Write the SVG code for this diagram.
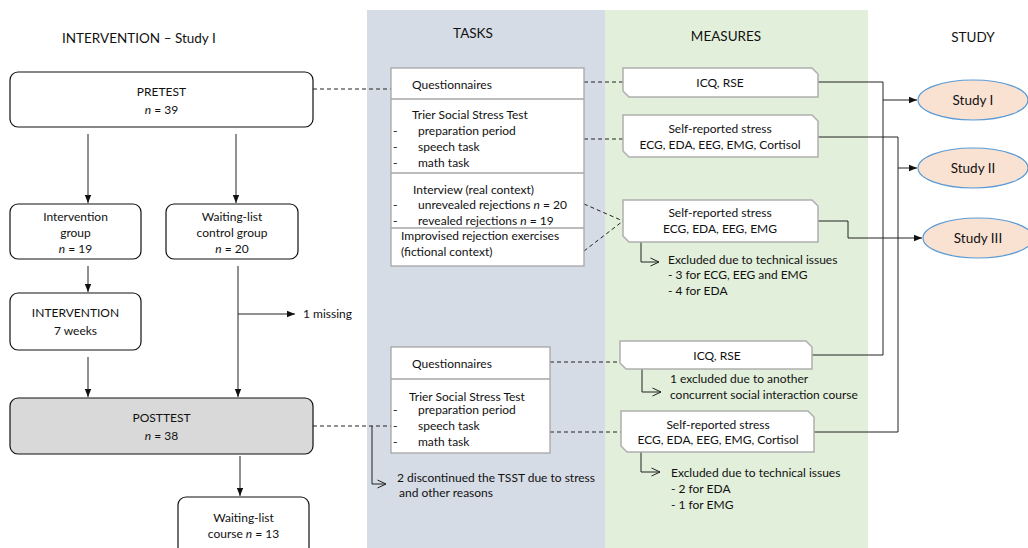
<svg xmlns="http://www.w3.org/2000/svg" width="1028" height="548" viewBox="0 0 1028 548">
<defs>
<style>
text{font-family:Lato,"Liberation Sans",sans-serif;font-size:12px;fill:#111}
.t{font-size:13.5px}
.c{text-anchor:middle}
.i{font-style:italic}
.lb{fill:#fff;stroke:#111;stroke-width:1.2}
.tb{fill:#fff;stroke:#A6A6A6;stroke-width:1.3}
.mb{fill:#fff;stroke:#AFAFAF;stroke-width:1.5}
.ln{fill:none;stroke:#222;stroke-width:1}
.ar{fill:none;stroke:#222;stroke-width:1;marker-end:url(#a)}
.op{fill:none;stroke:#222;stroke-width:1;marker-end:url(#o)}
.da{fill:none;stroke:#222;stroke-width:1;stroke-dasharray:4 3}
.el{fill:#FAE2D3;stroke:#5B9BD5;stroke-width:1.2}
</style>
<marker id="a" viewBox="0 0 8 8" refX="8" refY="4" markerWidth="8" markerHeight="8" markerUnits="userSpaceOnUse" orient="auto"><path d="M0,0.8 L8,4 L0,7.2 Z" fill="#111"/></marker>
<marker id="o" viewBox="0 0 10 10" refX="9.5" refY="5" markerWidth="10" markerHeight="10" markerUnits="userSpaceOnUse" orient="auto"><path d="M1,1 L9.5,5 L1,9" fill="none" stroke="#222" stroke-width="1"/></marker>
</defs>
<rect width="1028" height="548" fill="#fff"/>
<g id="panels">
<rect x="367" y="10" width="238" height="538" fill="#D6DCE5"/>
<rect x="605" y="10" width="263" height="538" fill="#E2EFDA"/>
</g>
<g id="titles">
<text class="t" x="62" y="43">INTERVENTION – Study I</text>
<text class="t c" x="473" y="38">TASKS</text>
<text class="t c" x="726" y="41">MEASURES</text>
<text class="t c" x="973" y="42">STUDY</text>
</g>
<g id="connectors">
<path class="da" d="M313,89 H391"/>
<path class="da" d="M584,82 H623"/>
<path class="da" d="M584,139 H623"/>
<path class="da" d="M584,204 L623,221 M584,251 L623,221"/>
<path class="da" d="M313,426 H391"/>
<path class="da" d="M550,362 H620"/>
<path class="da" d="M550,432 H621"/>
<path class="ar" d="M88,134 V203"/>
<path class="ar" d="M236,134 V203"/>
<path class="ar" d="M88,266 V292"/>
<path class="ar" d="M88,357 V397"/>
<path class="ar" d="M238,266 V397"/>
<path class="ar" d="M238,314 H295"/>
<path class="ar" d="M240,456 V496"/>
<path class="op" d="M372,426 V484 H386"/>
<path class="op" d="M641,242 V262 H659"/>
<path class="op" d="M642,369 V392 H661"/>
<path class="op" d="M641,452 V472 H660"/>
<path class="ln" d="M818,82 H883 V355 H812"/>
<path class="ar" d="M883,100 H917"/>
<path class="ln" d="M818,137 H898 V432 H814"/>
<path class="ar" d="M898,168 H917"/>
<path class="ar" d="M818,221 H848 V238 H922"/>
</g>
<g id="pretest">
<rect class="lb" x="10" y="72" width="303" height="55" rx="8"/>
<text class="c" x="161.5" y="96">PRETEST</text>
<text class="c" x="161.5" y="114"><tspan class="i">n</tspan> = 39</text>
</g>
<g id="intervention-group">
<rect class="lb" x="10" y="204" width="131" height="55" rx="8"/>
<text class="c" x="75.5" y="221">Intervention</text>
<text class="c" x="75.5" y="237">group</text>
<text class="c" x="75.5" y="253"><tspan class="i">n</tspan> = 19</text>
</g>
<g id="control-group">
<rect class="lb" x="166" y="204" width="132" height="55" rx="8"/>
<text class="c" x="232" y="221">Waiting-list</text>
<text class="c" x="232" y="237">control group</text>
<text class="c" x="232" y="253"><tspan class="i">n</tspan> = 20</text>
</g>
<g id="intervention">
<rect class="lb" x="10" y="293" width="131" height="57" rx="8"/>
<text class="c" x="75.5" y="317">INTERVENTION</text>
<text class="c" x="75.5" y="335">7 weeks</text>
</g>
<g id="missing">
<text x="303" y="318">1 missing</text>
</g>
<g id="posttest">
<rect class="lb" x="10" y="398" width="303" height="56" rx="8" style="fill:#D9D9D9"/>
<text class="c" x="161.5" y="422">POSTTEST</text>
<text class="c" x="161.5" y="440"><tspan class="i">n</tspan> = 38</text>
</g>
<g id="waiting-course">
<rect class="lb" x="178" y="497" width="131" height="70" rx="8"/>
<text class="c" x="243.5" y="522">Waiting-list</text>
<text class="c" x="243.5" y="538">course <tspan class="i">n</tspan> = 13</text>
</g>
<g id="tasks-pre">
<rect class="tb" x="391" y="68" width="193" height="198"/>
<path class="tb" d="M391,99 H584 M391,173 H584 M391,228 H584"/>
<text x="412" y="89">Questionnaires</text>
<text x="412" y="119">Trier Social Stress Test</text>
<text x="393" y="135">-</text><text x="418" y="135">preparation period</text>
<text x="393" y="151">-</text><text x="418" y="151">speech task</text>
<text x="393" y="167">-</text><text x="418" y="167">math task</text>
<text x="413" y="194">Interview (real context)</text>
<text x="393" y="209">-</text><text x="418" y="209">unrevealed rejections  <tspan class="i">n</tspan> = 20</text>
<text x="393" y="225">-</text><text x="418" y="225">revealed rejections <tspan class="i">n</tspan> = 19</text>
<text x="401" y="240">Improvised rejection exercises</text>
<text x="401" y="256">(fictional context)</text>
</g>
<g id="tasks-post">
<rect class="tb" x="391" y="347" width="159" height="106"/>
<path class="tb" d="M391,379 H550"/>
<text x="412" y="368">Questionnaires</text>
<text x="409" y="401">Trier Social Stress Test</text>
<text x="393" y="414">-</text><text x="418" y="414">preparation period</text>
<text x="393" y="430">-</text><text x="418" y="430">speech task</text>
<text x="393" y="446">-</text><text x="418" y="446">math task</text>
</g>
<g id="discontinued">
<text x="397" y="482">2 discontinued the TSST due to stress</text>
<text x="399" y="497">and other reasons</text>
</g>
<g id="icq-pre">
<path class="mb" d="M623,68 H812 L818,74 V97 H629 L623,91 Z"/>
<text class="c" x="720" y="87">ICQ, RSE</text>
</g>
<g id="stress-pre-tsst">
<path class="mb" d="M623,115 H812 L818,121 V157 H629 L623,151 Z"/>
<text class="c" x="720" y="133">Self-reported stress</text>
<text class="c" x="720" y="149">ECG, EDA, EEG, EMG, Cortisol</text>
</g>
<g id="stress-pre-interview">
<path class="mb" d="M623,200 H812 L818,206 V242 H629 L623,236 Z"/>
<text class="c" x="720" y="217">Self-reported stress</text>
<text class="c" x="720" y="233">ECG, EDA, EEG, EMG</text>
</g>
<g id="excluded-1">
<text x="668" y="264">Excluded due to technical issues</text>
<text x="668" y="279">- 3 for ECG, EEG and EMG</text>
<text x="668" y="295">- 4 for EDA</text>
</g>
<g id="icq-post">
<path class="mb" d="M620,341 H806 L812,347 V369 H626 L620,363 Z"/>
<text class="c" x="717" y="360">ICQ, RSE</text>
</g>
<g id="excluded-2">
<text x="670" y="383">1 excluded due to another</text>
<text x="670" y="399">concurrent social interaction course</text>
</g>
<g id="stress-post">
<path class="mb" d="M621,411 H808 L814,417 V452 H627 L621,446 Z"/>
<text class="c" x="718" y="429">Self-reported stress</text>
<text class="c" x="718" y="444">ECG, EDA, EEG, EMG, Cortisol</text>
</g>
<g id="excluded-3">
<text x="671" y="477">Excluded due to technical issues</text>
<text x="671" y="493">- 2 for EDA</text>
<text x="671" y="509">- 1 for EMG</text>
</g>
<g id="study-1">
<ellipse class="el" cx="973" cy="100" rx="55" ry="20"/>
<text class="c t" x="973" y="105">Study I</text>
</g>
<g id="study-2">
<ellipse class="el" cx="973" cy="168" rx="55" ry="20"/>
<text class="c t" x="973" y="173">Study II</text>
</g>
<g id="study-3">
<ellipse class="el" cx="978" cy="238" rx="55" ry="20"/>
<text class="c t" x="978" y="243">Study III</text>
</g>
</svg>
